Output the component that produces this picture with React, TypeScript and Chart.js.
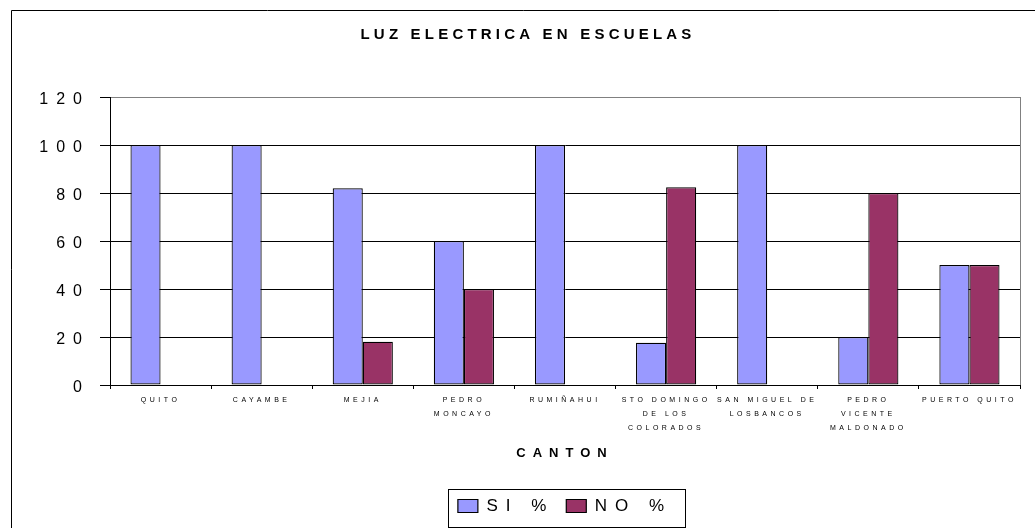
import React, { useEffect, useRef } from 'react';
import { Chart, registerables } from 'chart.js';

Chart.register(...registerables);

// ---- data ----
const TITLE = 'LUZ ELECTRICA EN ESCUELAS';
const X_TITLE = 'CANTON';
const categories: (string | string[])[] = [
  'QUITO',
  'CAYAMBE',
  'MEJIA',
  ['PEDRO', 'MONCAYO'],
  'RUMIÑAHUI',
  ['STO DOMINGO', 'DE LOS', 'COLORADOS'],
  ['SAN MIGUEL DE', 'LOSBANCOS'],
  ['PEDRO', 'VICENTE', 'MALDONADO'],
  'PUERTO QUITO',
];
const seriesNames = ['SI %', 'NO %'];
const siValues = [100, 100, 82, 60, 100, 17.6, 100, 20, 50];
const noValues = [0, 0, 18, 40, 0, 82.4, 0, 80, 50];
const yMin = 0;
const yMax = 120;
const yStep = 20;

// ---- style ----
const FONT = 'Arial, "Liberation Sans", sans-serif';
const SI_COLOR = '#9999FF';
const NO_COLOR = '#993366';
const FRAME_LEFT = 11;
const FRAME_TOP = 10;
const TITLE_CX = 528;
const TITLE_CY = 35;

function spacingFor(font: string): string {
  const m = /(\d+(?:\.\d+)?)px/.exec(font);
  const size = m ? parseFloat(m[1]) : 12;
  const bold = /bold|700/.test(font);
  if (size <= 9) return '3.5px';
  if (bold && size < 14) return '7px';
  if (bold) return '4.2px';
  return '8px';
}

const decorPlugin = {
  id: 'decor',
  beforeDraw(chart: any) {
    const { ctx, chartArea: a, width, height } = chart;
    ctx.save();
    ctx.lineWidth = 1;
    ctx.strokeStyle = '#000';
    ctx.beginPath();
    ctx.moveTo(FRAME_LEFT + 0.5, height);
    ctx.lineTo(FRAME_LEFT + 0.5, FRAME_TOP + 0.5);
    ctx.lineTo(width, FRAME_TOP + 0.5);
    ctx.stroke();
    ctx.strokeStyle = '#808080';
    ctx.strokeRect(
      Math.round(a.left) + 0.5,
      Math.round(a.top) + 0.5,
      Math.round(a.right - a.left),
      Math.round(a.bottom - a.top)
    );
    // chart title
    ctx.fillStyle = '#000';
    ctx.font = `bold 15px ${FONT}`;
    ctx.textAlign = 'center';
    ctx.textBaseline = 'middle';
    ctx.fillText(TITLE, TITLE_CX, TITLE_CY);
    ctx.restore();
  },
  afterDraw(chart: any) {
    const boxes = chart.legend && chart.legend.legendHitBoxes;
    if (!boxes || !boxes.length) return;
    const { ctx } = chart;
    const left = Math.min(...boxes.map((b: any) => b.left)) - 10;
    const right = Math.max(...boxes.map((b: any) => b.left + b.width)) + 13;
    const cy = boxes[0].top + boxes[0].height / 2;
    ctx.save();
    ctx.lineWidth = 1;
    ctx.strokeStyle = '#000';
    ctx.strokeRect(Math.round(left) + 0.5, Math.round(cy - 17) + 0.5, Math.round(right - left), 38);
    ctx.restore();
  },
};

export default function App() {
  const ref = useRef<HTMLCanvasElement>(null);

  useEffect(() => {
    const canvas = ref.current!;
    const ctx: any = canvas.getContext('2d');
    const origFill = ctx.fillText.bind(ctx);
    const origMeasure = ctx.measureText.bind(ctx);
    ctx.fillText = (t: string, x: number, y: number, w?: number) => {
      ctx.letterSpacing = spacingFor(ctx.font);
      if (w === undefined) origFill(t, x, y);
      else origFill(t, x, y, w);
    };
    ctx.measureText = (t: string) => {
      ctx.letterSpacing = spacingFor(ctx.font);
      return origMeasure(t);
    };

    Chart.defaults.color = '#000';

    const chart = new Chart(canvas, {
      type: 'bar',
      data: {
        labels: categories as any,
        datasets: [
          {
            label: seriesNames[0],
            data: siValues,
            backgroundColor: SI_COLOR,
            borderColor: '#000',
            borderWidth: 1.2,
            borderSkipped: false,
            categoryPercentage: 0.595,
            barPercentage: 1,
          },
          {
            label: seriesNames[1],
            data: noValues,
            backgroundColor: NO_COLOR,
            borderColor: '#000',
            borderWidth: 1.2,
            borderSkipped: false,
            categoryPercentage: 0.595,
            barPercentage: 1,
          },
        ],
      },
      options: {
        responsive: false,
        animation: false,
        events: [],
        layout: { padding: { left: 11, right: 15, top: 97, bottom: 3.5 } },
        plugins: {
          tooltip: { enabled: false },
          title: { display: false },
          legend: {
            display: true,
            position: 'bottom',
            fullSize: false,
            labels: {
              color: '#000',
              font: { family: FONT, size: 17 },
              boxWidth: 20,
              boxHeight: 13,
              padding: 12,
            },
          },
        },
        scales: {
          x: {
            offset: true,
            grid: {
              display: true,
              drawOnChartArea: false,
              drawTicks: true,
              tickLength: 4,
              color: '#000',
              tickColor: '#000',
            },
            border: { display: true, color: '#000', width: 1 },
            ticks: {
              autoSkip: false,
              maxRotation: 0,
              minRotation: 0,
              padding: 4,
              color: '#000',
              font: { family: FONT, size: 7, lineHeight: 2 },
            },
            title: {
              display: true,
              text: X_TITLE,
              color: '#000',
              font: { family: FONT, size: 13, weight: 'bold' },
              padding: { top: 0, bottom: 24 },
            },
            afterFit(scale: any) {
              scale.height = 100.5;
            },
          },
          y: {
            min: yMin,
            max: yMax,
            ticks: {
              stepSize: yStep,
              padding: 10,
              labelOffset: 2.5,
              color: '#000',
              font: { family: FONT, size: 16 },
              callback: (v: any) => String(v),
            },
            grid: {
              color: (c: any) => (c.tick && c.tick.value === yMax ? '#808080' : '#000'),
              tickColor: '#000',
              tickLength: 10,
              lineWidth: 1,
            },
            border: { display: true, color: '#000', width: 1 },
            afterFit(scale: any) {
              scale.width = 99;
            },
          },
        },
      } as any,
      plugins: [decorPlugin],
    });

    return () => chart.destroy();
  }, []);

  return (
    <div style={{ position: 'absolute', left: 0, top: 0, width: 1035, height: 528, background: '#fff' }}>
      <canvas ref={ref} width={1035} height={528} style={{ display: 'block', width: 1035, height: 528 }} />
    </div>
  );
}
